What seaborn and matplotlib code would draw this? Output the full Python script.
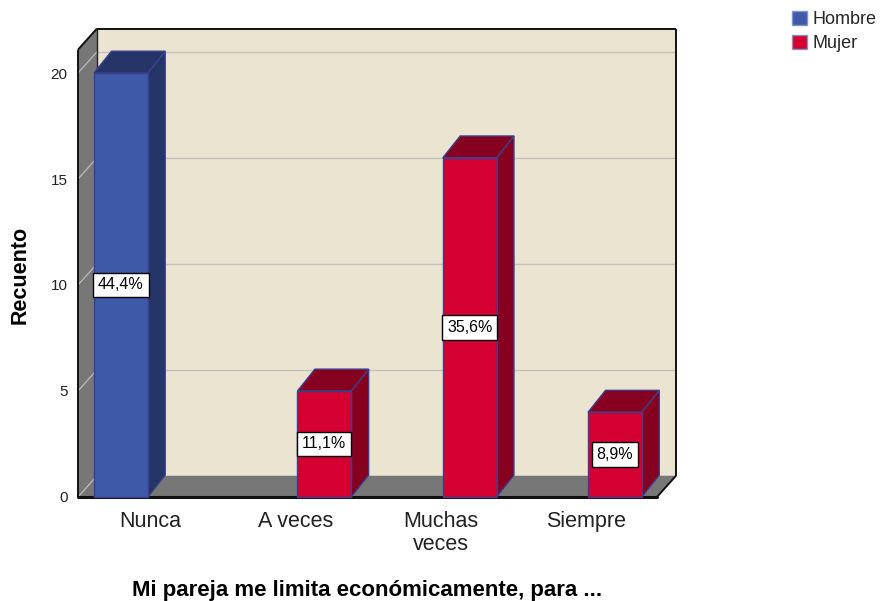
import numpy as np
import pandas as pd
import matplotlib
matplotlib.use("Agg")
import matplotlib.pyplot as plt
from matplotlib.patches import Polygon
import seaborn as sns

# ---- data ----
categories = ["Nunca", "A veces", "Muchas veces", "Siempre"]
tick_labels = ["Nunca", "A veces", "Muchas\nveces", "Siempre"]
sexes = ["Hombre", "Mujer"]
hombre_counts = [20, 0, 0, 0]
mujer_counts = [0, 5, 16, 4]
y_ticks = [0, 5, 10, 15, 20]

total = sum(hombre_counts) + sum(mujer_counts)
df = pd.DataFrame({
    "cat": categories * 2,
    "sexo": ["Hombre"] * 4 + ["Mujer"] * 4,
    "count": hombre_counts + mujer_counts,
})

# ---- style ----
front_cols = {"Hombre": "#3E59A7", "Mujer": "#D50032"}
side_cols = {"Hombre": "#263567", "Mujer": "#860020"}
edge_col = "#3D3F8C"
wall_gray = "#777777"
back_col = "#EAE4D0"
grid_col = "#C4C2BE"

sns.set_theme(style="white")
plt.rcParams["font.family"] = ["Liberation Sans", "DejaVu Sans"]

fig = plt.figure(figsize=(8.8, 6.01), dpi=100)
ax = fig.add_axes([74.4 / 880, (601 - 501.2) / 601, 604.5 / 880, 474.8 / 601])

sns.barplot(data=df, x="cat", y="count", hue="sexo", order=categories,
            hue_order=sexes, palette=[front_cols[s] for s in sexes],
            width=0.8, gap=0.075, saturation=1, edgecolor=edge_col,
            linewidth=1, ax=ax, legend=True)

ax.set_xlim(-0.52, 3.64)
ax.set_ylim(-0.2, 22.2)

# ---- 3D box: walls and floor ----
xl = -0.4955      # left wall front x
wdx, wdy = 0.131, 1.0
xr_back = 3.620
xr_front = xr_back - wdx
top_front = 21.1

back = Polygon([(xl + wdx, wdy), (xr_back, wdy), (xr_back, top_front + wdy),
                (xl + wdx, top_front + wdy)], closed=True, facecolor=back_col,
               edgecolor="none", zorder=0.5)
ax.add_patch(back)
left = Polygon([(xl, 0), (xl + wdx, wdy), (xl + wdx, top_front + wdy),
                (xl, top_front)], closed=True, facecolor=wall_gray,
               edgecolor="none", zorder=0.6)
ax.add_patch(left)
floor = Polygon([(xl, 0), (xr_front, 0), (xr_back, wdy), (xl + wdx, wdy)],
                closed=True, facecolor=wall_gray, edgecolor="none", zorder=0.6)
ax.add_patch(floor)

for v in y_ticks[1:]:
    ax.plot([xl + wdx, xr_back], [v + wdy, v + wdy], color=grid_col, lw=1, zorder=0.8)
for v in y_ticks:
    ax.plot([xl, xl + wdx], [v, v + wdy], color="#BBBBBB", lw=0.9, zorder=0.8)

line_kw = dict(color="#111111", lw=1.4, zorder=0.9, solid_capstyle="butt")
ax.plot([xl, xl], [0, top_front], **line_kw)
ax.plot([xl, xl + wdx], [top_front, top_front + wdy], **line_kw)
ax.plot([xl + wdx, xr_back], [top_front + wdy, top_front + wdy], **line_kw)
ax.plot([xr_back, xr_back], [top_front + wdy, wdy], **line_kw)
ax.plot([xl + wdx, xl + wdx], [top_front + wdy, wdy], color="#222222", lw=1.0, zorder=0.9)
ax.plot([xr_front, xr_back], [0, wdy], **line_kw)
ax.plot([xl, xr_front], [0, 0], color="#111111", lw=2.2, zorder=0.95, clip_on=False)

# ---- 3D bars ----
bdx, bdy = 0.12, 1.03
for sex, cont in zip(sexes, ax.containers):
    for patch in cont.patches:
        h = patch.get_height()
        if h <= 0:
            patch.set_visible(False)
            continue
        x0 = patch.get_x()
        x1 = x0 + patch.get_width()
        patch.set_zorder(4)
        side = Polygon([(x1, 0), (x1 + bdx, bdy), (x1 + bdx, h + bdy), (x1, h)],
                       closed=True, facecolor=side_cols[sex], edgecolor=edge_col,
                       lw=1, zorder=3)
        top = Polygon([(x0, h), (x0 + bdx, h + bdy), (x1 + bdx, h + bdy), (x1, h)],
                      closed=True, facecolor=side_cols[sex], edgecolor=edge_col,
                      lw=1, zorder=3)
        ax.add_patch(side)
        ax.add_patch(top)
        pct = f"{h / total * 100:.1f}%".replace(".", ",")
        ax.text((x0 + x1) / 2, h / 2, pct, ha="center", va="center",
                fontsize=11.5, color="black", zorder=6,
                bbox=dict(boxstyle="square,pad=0.3", facecolor="white",
                          edgecolor="black", linewidth=1))

# ---- axes text ----
for s in ax.spines.values():
    s.set_visible(False)
ax.set_facecolor("none")
ax.set_yticks(y_ticks)
ax.set_yticklabels([str(v) for v in y_ticks], fontsize=11, color="#222222")
ax.set_xticks(range(len(categories)))
ax.set_xticklabels(tick_labels, fontsize=15.5, color="#222222", linespacing=1.12)
ax.tick_params(axis="y", length=0, pad=5)
ax.tick_params(axis="x", length=0, pad=7)
ax.grid(False)

ax.set_ylabel("Recuento", fontsize=15.5, fontweight="bold", color="black")
ax.yaxis.set_label_coords((31 - 74.4) / 604.5, 0.4764)
ax.set_xlabel("Mi pareja me limita económicamente, para ...", fontsize=16,
              fontweight="bold", color="black")
ax.xaxis.set_label_coords(0.484, (501.2 - 580) / 474.8)

sns.move_legend(ax, "upper left", bbox_to_anchor=(792 / 880, 1 - 11 / 601),
                bbox_transform=fig.transFigure, frameon=False, title=None,
                fontsize=13, handlelength=0.85, handleheight=0.85,
                handletextpad=0.3, labelspacing=0.35, borderpad=0,
                borderaxespad=0)
leg = ax.get_legend()
for hnd in leg.legend_handles:
    hnd.set_edgecolor("#8890C8")
    hnd.set_linewidth(1)

fig.savefig("out.png", dpi=100)
